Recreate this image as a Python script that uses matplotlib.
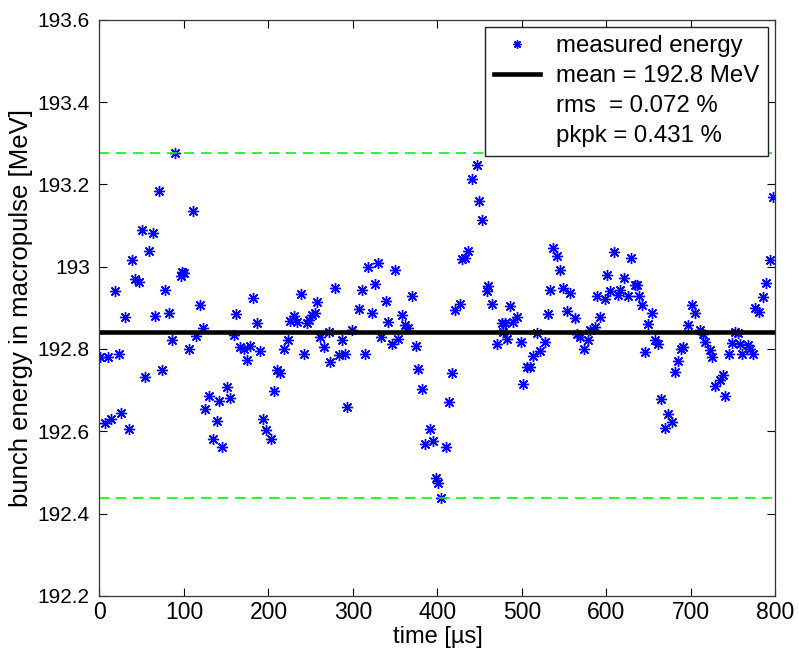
import matplotlib.pyplot as plt
from matplotlib.ticker import FuncFormatter
from matplotlib.lines import Line2D

plt.rcParams['font.family'] = ['Liberation Sans', 'DejaVu Sans']

time_us = [
    1.2, 6.3, 10.3, 14.2, 18.9, 22.8, 26.0, 30.7, 34.7, 38.6, 42.5, 47.3, 50.4,
    54.4, 58.3, 63.4, 66.2, 70.9, 74.0, 78.0, 82.7, 86.0, 89.8, 96.0, 98.0,
    99.7, 106.4, 110.3, 114.7, 119.4, 122.0, 125.3, 129.2, 134.0, 139.1,
    141.8, 145.0, 150.9, 154.8, 158.8, 161.9, 166.7, 170.6, 174.6, 177.7,
    181.7, 186.4, 190.3, 193.5, 197.4, 202.9, 206.0, 210.0, 214.0, 217.9,
    222.6, 225.8, 229.7, 233.7, 238.4, 242.3, 245.5, 247.4, 251.4, 255.3,
    258.0, 261.2, 266.0, 271.1, 273.0, 278.2, 282.9, 286.9, 290.8, 293.5,
    298.7, 306.6, 310.5, 314.4, 318.3, 322.3, 326.2, 330.1, 333.3, 338.9,
    342.0, 346.0, 349.9, 353.8, 358.5, 361.7, 365.6, 369.6, 374.2, 377.5,
    382.1, 385.3, 391.3, 395.2, 398.3, 401.0, 404.3, 409.8, 414.1, 417.6,
    420.8, 426.7, 429.4, 432.6, 436.6, 441.3, 446.4, 449.6, 453.0, 458.2,
    460.2, 464.9, 470.0, 476.0, 478.0, 479.9, 481.9, 485.8, 489.7, 493.7,
    498.4, 500.8, 505.6, 509.5, 513.4, 517.4, 521.3, 527.2, 530.3, 533.1,
    537.0, 541.0, 545.0, 548.8, 552.8, 556.7, 562.6, 564.7, 568.6, 573.3,
    578.4, 580.4, 586.3, 588.3, 592.2, 598.1, 600.8, 604.0, 608.7, 613.8,
    615.8, 620.6, 625.7, 629.6, 633.6, 635.6, 638.3, 641.5, 645.4, 649.3,
    654.0, 657.2, 661.1, 665.0, 669.8, 672.9, 677.6, 681.7, 684.8, 688.8,
    690.6, 696.6, 701.3, 705.3, 710.4, 714.3, 717.0, 722.1, 724.8, 728.1,
    734.0, 738.0, 740.7, 744.7, 749.0, 751.8, 755.7, 757.7, 760.4, 767.5,
    769.5, 773.4, 775.4, 780.1, 785.2, 789.2, 793.1, 797.0,
]
energy_mev = [
    192.781, 192.620, 192.780, 192.631, 192.940, 192.789, 192.644, 192.878,
    192.605, 193.016, 192.969, 192.964, 193.089, 192.732, 193.037, 193.083,
    192.880, 193.184, 192.749, 192.944, 192.888, 192.821, 193.277, 192.978,
    192.988, 192.984, 192.799, 193.136, 192.831, 192.908, 192.850, 192.654,
    192.686, 192.582, 192.625, 192.674, 192.562, 192.708, 192.682, 192.834,
    192.885, 192.804, 192.799, 192.773, 192.807, 192.924, 192.863, 192.796,
    192.631, 192.603, 192.581, 192.698, 192.749, 192.741, 192.801, 192.821,
    192.868, 192.880, 192.866, 192.934, 192.789, 192.864, 192.871, 192.883,
    192.888, 192.915, 192.828, 192.804, 192.842, 192.769, 192.949, 192.785,
    192.821, 192.789, 192.658, 192.846, 192.896, 192.944, 192.789, 193.000,
    192.887, 192.957, 193.008, 192.829, 192.916, 192.866, 192.813, 192.992,
    192.825, 192.883, 192.859, 192.850, 192.930, 192.808, 192.751, 192.702,
    192.569, 192.605, 192.576, 192.487, 192.475, 192.439, 192.563, 192.672,
    192.741, 192.895, 192.909, 193.018, 193.020, 193.039, 193.214, 193.247,
    193.160, 193.113, 192.942, 192.952, 192.909, 192.813, 192.864, 192.842,
    192.863, 192.825, 192.904, 192.866, 192.878, 192.817, 192.716, 192.757,
    192.756, 192.783, 192.838, 192.796, 192.817, 192.885, 192.944, 193.045,
    193.025, 192.992, 192.948, 192.893, 192.936, 192.876, 192.837, 192.829,
    192.799, 192.821, 192.846, 192.854, 192.929, 192.877, 192.921, 192.980,
    192.942, 193.035, 192.932, 192.944, 192.973, 192.929, 193.020, 192.956,
    192.956, 192.928, 192.907, 192.793, 192.861, 192.887, 192.821, 192.812,
    192.678, 192.609, 192.642, 192.623, 192.745, 192.772, 192.799, 192.805,
    192.858, 192.907, 192.887, 192.846, 192.837, 192.817, 192.797, 192.781,
    192.710, 192.725, 192.737, 192.686, 192.789, 192.815, 192.842, 192.840,
    192.812, 192.789, 192.809, 192.801, 192.789, 192.899, 192.891, 192.926,
    192.960, 193.016, 193.170,
]

mean_energy = 192.842
upper_limit = 193.277
lower_limit = 192.439
legend_labels = ['measured energy', 'mean = 192.8 MeV',
                 'rms  = 0.072 %', 'pkpk = 0.431 %']

asterisk = (8, 2, 0)

fig = plt.figure(figsize=(7.99, 6.58), dpi=100)
ax = fig.add_axes([0.1245, 0.0944, 0.846, 0.8755])

ax.plot(time_us, energy_mev, linestyle='none', marker=asterisk, color='blue',
        markersize=8, markeredgewidth=1.0)
ax.axhline(mean_energy, color='black', linewidth=3.3)
ax.axhline(upper_limit, color=(0, 1, 0), linestyle=(0, (6, 4.2)), linewidth=1.2)
ax.axhline(lower_limit, color=(0, 1, 0), linestyle=(0, (6, 4.2)), linewidth=1.2)

ax.set_xlim(0, 800)
ax.set_ylim(192.2, 193.6)
ax.set_xticks(range(0, 801, 100))
ax.set_yticks([192.2, 192.4, 192.6, 192.8, 193.0, 193.2, 193.4, 193.6])
ax.yaxis.set_major_formatter(FuncFormatter(lambda v, p: '%g' % round(v, 1)))
ax.tick_params(direction='in', top=True, right=True, length=6, width=0.8)
ax.tick_params(axis='x', labelsize=16.5, pad=4)
ax.tick_params(axis='y', labelsize=15, pad=7)
for s in ax.spines.values():
    s.set_linewidth(0.9)
    s.set_color('#333333')

ax.set_xlabel('time [µs]', fontsize=17, labelpad=1)
ax.set_ylabel('bunch energy in macropulse [MeV]', fontsize=18.5, labelpad=3)

handles = [
    Line2D([], [], linestyle='none', marker=asterisk, color='blue',
           markersize=6, markeredgewidth=1.0),
    Line2D([], [], color='black', linewidth=3.3),
    Line2D([], [], linestyle='none'),
    Line2D([], [], linestyle='none'),
]
leg = ax.legend(handles, legend_labels, loc='upper right',
                bbox_to_anchor=(0.989, 0.9875), fontsize=17.3, frameon=True,
                fancybox=False, edgecolor='#222222', framealpha=1,
                handlelength=1.9, handletextpad=0.7, borderpad=0.35,
                borderaxespad=0, labelspacing=0.33)
leg.get_frame().set_linewidth(1.0)

plt.savefig('out.png', dpi=100)
